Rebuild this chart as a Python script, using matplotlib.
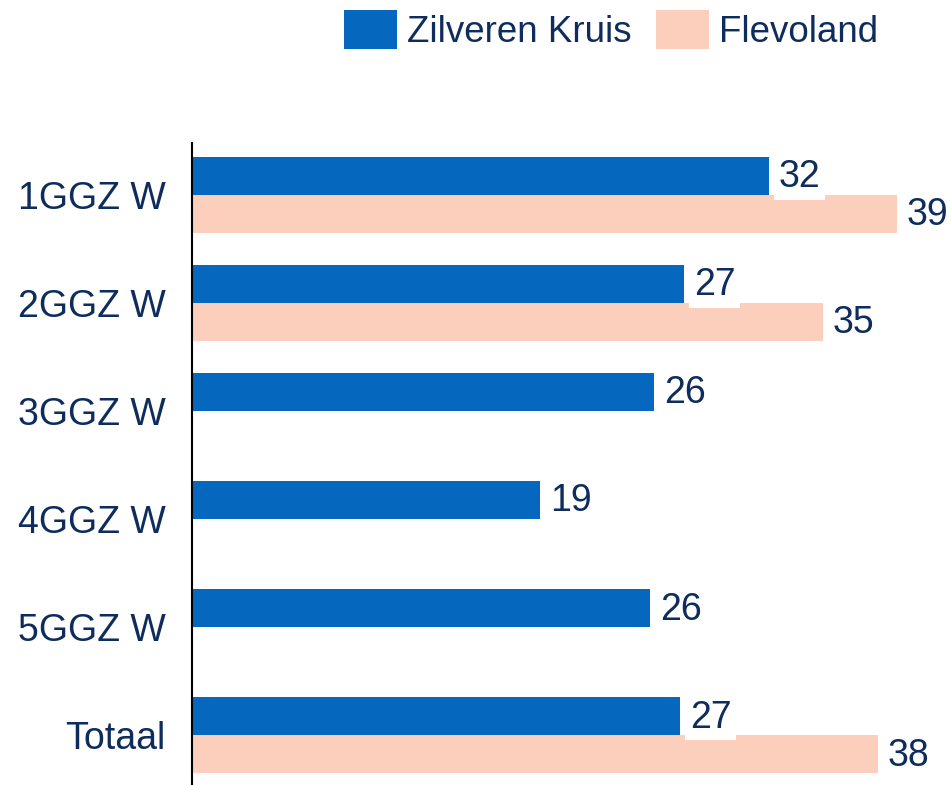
import numpy as np
import matplotlib.pyplot as plt

categories = ["1GGZ W", "2GGZ W", "3GGZ W", "4GGZ W", "5GGZ W", "Totaal"]
zilveren_kruis = [32.2, 27.46, 25.78, 19.42, 25.56, 27.23]
flevoland = [39.34, 35.21, np.nan, np.nan, np.nan, 38.28]
series_names = ["Zilveren Kruis", "Flevoland"]

BLUE = "#0567BD"
PEACH = "#FBCFBC"
NAVY = "#0E2D5C"

plt.rcParams["font.family"] = ["Liberation Sans", "DejaVu Sans"]

fig = plt.figure(figsize=(9.51, 7.85), dpi=100)
ax = fig.add_axes([192 / 951, 0.0, 1 - 192 / 951, (785 - 143) / 785])

y = np.arange(len(categories))
h = 0.352
bars_zk = ax.barh(y - h / 2, zilveren_kruis, height=h, color=BLUE, label=series_names[0])
bars_fl = ax.barh(y + h / 2, flevoland, height=h, color=PEACH, label=series_names[1])

for bars, vals in ((bars_zk, zilveren_kruis), (bars_fl, flevoland)):
    for bar, v in zip(bars, vals):
        if np.isnan(v):
            continue
        ax.annotate(
            f"{v:.0f}",
            xy=(v, bar.get_y() + bar.get_height() / 2),
            xytext=(7, -1),
            textcoords="offset points",
            ha="left",
            va="center",
            fontsize=27,
            color=NAVY,
            bbox=dict(boxstyle="square,pad=0.12", facecolor="white", edgecolor="none"),
            annotation_clip=False,
        )

ax.set_xlim(0, 42.35)
ax.set_ylim(5.46, -0.48)
ax.set_yticks(y)
ax.set_yticklabels(categories)
ax.set_xticks([])
ax.tick_params(axis="y", length=0, pad=19, labelsize=27, labelcolor=NAVY)
for side in ("top", "right", "bottom"):
    ax.spines[side].set_visible(False)
ax.spines["left"].set_linewidth(1.5)
ax.spines["left"].set_color("black")

fig.legend(
    loc="upper right",
    bbox_to_anchor=(878 / 951, 1 - 10 / 785),
    ncol=2,
    frameon=False,
    fontsize=26.5,
    labelcolor=NAVY,
    handlelength=1.44,
    handleheight=1.25,
    handletextpad=0.27,
    columnspacing=0.65,
    borderpad=0,
    borderaxespad=0,
)

fig.savefig("out.png", dpi=100)
